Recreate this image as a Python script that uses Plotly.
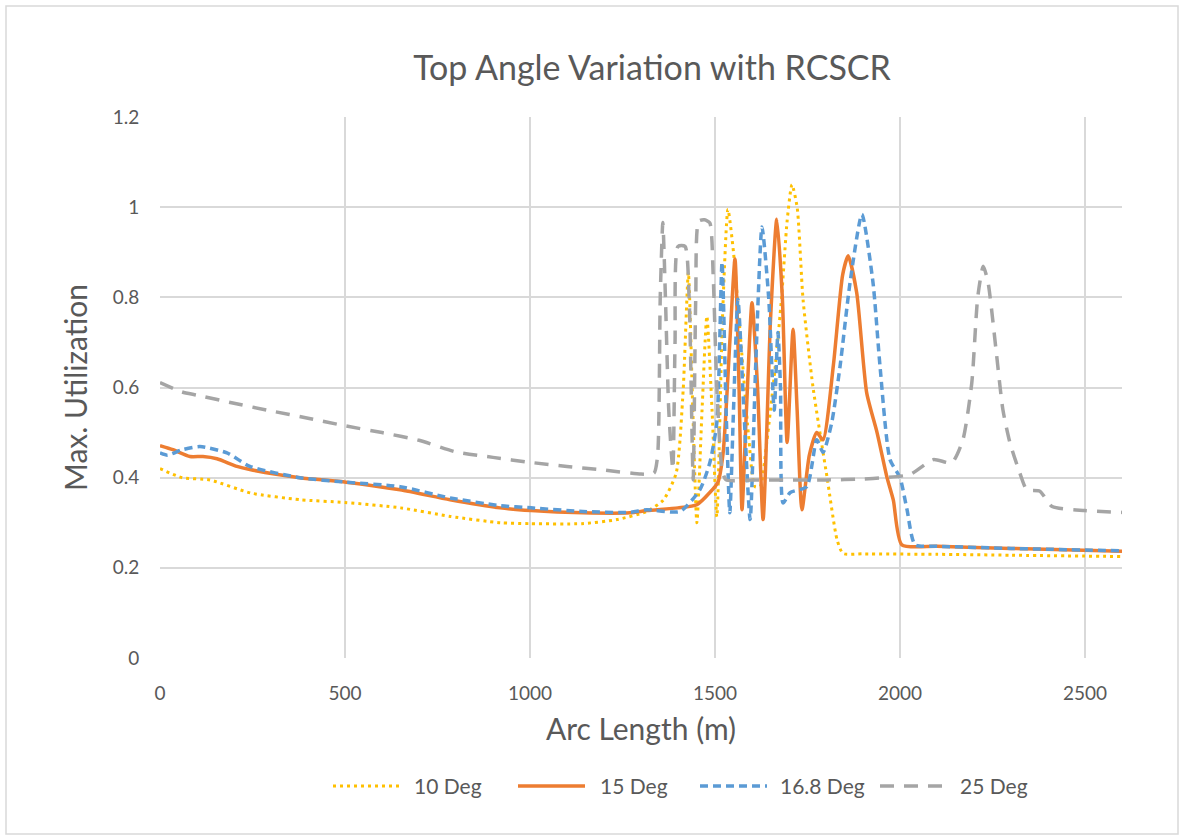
import plotly.graph_objects as go

# Arc length (m) and max. utilization for each top angle
x_10 = [0, 60, 135, 245, 380, 500, 650, 785, 920, 1000, 1140, 1235, 1315, 1360, 1395, 1414,
        1428, 1440, 1451, 1465, 1478, 1492, 1505, 1520, 1535, 1550, 1570, 1590, 1608, 1622,
        1640, 1662, 1680, 1695, 1708, 1722, 1738, 1765, 1803, 1830, 1846, 1900, 2100, 2300, 2600]
y_10 = [0.42, 0.40, 0.395, 0.366, 0.351, 0.345, 0.333, 0.314, 0.30, 0.298, 0.298, 0.307, 0.325,
        0.35, 0.41, 0.595, 0.855, 0.55, 0.30, 0.55, 0.758, 0.55, 0.313, 0.75, 0.995, 0.9, 0.7,
        0.5, 0.38, 0.38, 0.48, 0.64, 0.80, 0.97, 1.05, 1.0, 0.795, 0.60, 0.40, 0.262, 0.232,
        0.231, 0.23, 0.228, 0.225]

x_15 = [0, 35, 81, 116, 154, 208, 243, 378, 503, 649, 784, 919, 1003, 1143, 1270, 1316, 1400,
        1451, 1486, 1508, 1522, 1540, 1554, 1565, 1573, 1585, 1600, 1615, 1630, 1650, 1667,
        1682, 1695, 1711, 1722, 1735, 1755, 1775, 1792, 1820, 1845, 1860, 1883, 1910, 1938,
        1965, 1982, 2005, 2100, 2300, 2600]
y_15 = [0.471, 0.462, 0.447, 0.447, 0.442, 0.425, 0.418, 0.40, 0.39, 0.373, 0.351, 0.333, 0.327,
        0.322, 0.322, 0.327, 0.333, 0.34, 0.367, 0.39, 0.455, 0.70, 0.885, 0.60, 0.329, 0.55,
        0.788, 0.60, 0.307, 0.75, 0.973, 0.80, 0.478, 0.729, 0.55, 0.329, 0.45, 0.50, 0.484,
        0.65, 0.85, 0.892, 0.81, 0.588, 0.50, 0.40, 0.35, 0.251, 0.248, 0.243, 0.237]

x_168 = [0, 20, 60, 108, 181, 243, 378, 503, 649, 784, 919, 1003, 1143, 1270, 1316, 1405, 1459,
         1486, 1505, 1519, 1530, 1540, 1550, 1562, 1578, 1595, 1610, 1627, 1645, 1660, 1670,
         1677, 1684, 1703, 1748, 1775, 1792, 1815, 1838, 1865, 1897, 1927, 1946, 1973, 2000,
         2019, 2041, 2100, 2300, 2600]
y_168 = [0.455, 0.45, 0.462, 0.469, 0.455, 0.425, 0.40, 0.39, 0.38, 0.355, 0.338, 0.333, 0.325,
         0.323, 0.329, 0.325, 0.373, 0.433, 0.522, 0.878, 0.55, 0.322, 0.55, 0.796, 0.55, 0.307,
         0.65, 0.956, 0.80, 0.55, 0.722, 0.60, 0.344, 0.367, 0.38, 0.484, 0.456, 0.52, 0.647,
         0.833, 0.984, 0.833, 0.647, 0.44, 0.40, 0.329, 0.251, 0.248, 0.243, 0.238]

x_25 = [0, 60, 100, 200, 300, 400, 500, 600, 700, 800, 900, 1000, 1100, 1200, 1300, 1335, 1345,
        1352, 1359, 1366, 1375, 1386, 1392, 1400, 1419, 1430, 1441, 1448, 1456, 1472, 1486,
        1495, 1505, 1519, 1530, 1600, 1700, 1800, 1900, 1955, 2027, 2090, 2140, 2170, 2194,
        2210, 2225, 2238, 2260, 2278, 2297, 2324, 2343, 2378, 2411, 2500, 2600]
y_25 = [0.611, 0.59, 0.583, 0.565, 0.548, 0.532, 0.515, 0.50, 0.483, 0.457, 0.445, 0.434, 0.425,
        0.417, 0.408, 0.41, 0.45, 0.80, 0.966, 0.80, 0.55, 0.418, 0.70, 0.913, 0.913, 0.80,
        0.395, 0.80, 0.969, 0.972, 0.965, 0.85, 0.60, 0.418, 0.395, 0.395, 0.395, 0.395,
        0.397, 0.40, 0.407, 0.44, 0.433, 0.484, 0.61, 0.80, 0.869, 0.833, 0.68, 0.551, 0.478,
        0.41, 0.373, 0.37, 0.336, 0.327, 0.323]

series = [
    ("10 Deg", x_10, y_10, "#FFC000", "3px,4px", 3),
    ("15 Deg", x_15, y_15, "#ED7D31", "solid", 3.5),
    ("16.8 Deg", x_168, y_168, "#5B9BD5", "8px,5px", 3.5),
    ("25 Deg", x_25, y_25, "#A5A5A5", "14px,10px", 3.5),
]

FONT = "Lato"
TXT = "#595959"
GRID = "#D9D9D9"

# plot area in pixels, used to place the frame and the legend keys
L, R, T, B = 160, 1122, 117, 658
W, H = R - L, B - T


def px_x(p):
    return (p - L) / W


def px_y(p):
    return (B - p) / H


fig = go.Figure()
for name, xs, ys, color, dash, width in series:
    fig.add_trace(go.Scatter(
        x=xs, y=ys, name=name, mode="lines", showlegend=False,
        line=dict(color=color, dash=dash, width=width, shape="spline", smoothing=0.6),
    ))

fig.update_layout(
    width=1184, height=839,
    margin=dict(l=L, r=1184 - R, t=T, b=839 - B, autoexpand=False),
    paper_bgcolor="white", plot_bgcolor="white",
    font=dict(family=FONT, color=TXT),
    title=dict(text="Top Angle Variation with RCSCR", x=652 / 1184, xanchor="center",
               y=1 - 68 / 839, yanchor="middle", font=dict(size=34, color=TXT, family=FONT)),
    xaxis=dict(range=[0, 2600], tickvals=[0, 500, 1000, 1500, 2000, 2500],
               showgrid=True, gridcolor=GRID, gridwidth=2, zeroline=False,
               showline=False, ticks="outside", ticklen=18, tickcolor="rgba(0,0,0,0)",
               tickfont=dict(size=19, color=TXT),
               title=dict(text="Arc Length (m)", font=dict(size=30, color=TXT), standoff=16)),
    yaxis=dict(range=[0, 1.2], tickvals=[0, 0.2, 0.4, 0.6, 0.8, 1.0, 1.2],
               ticktext=["0", "0.2", "0.4", "0.6", "0.8", "1", "1.2"],
               showgrid=True, gridcolor=GRID, gridwidth=2, zeroline=False,
               showline=False, ticks="outside", ticklen=16, tickcolor="rgba(0,0,0,0)",
               tickfont=dict(size=19, color=TXT),
               title=dict(text="Max. Utilization", font=dict(size=30, color=TXT), standoff=16)),
)

# chart frame
fig.add_shape(type="rect", xref="paper", yref="paper",
              x0=px_x(6), x1=px_x(1178), y0=px_y(834), y1=px_y(6),
              line=dict(color="#D9D9D9", width=1.5), fillcolor="rgba(0,0,0,0)", layer="below")

# legend keys below the axis title
legend_keys = [(333, 412), (518, 598), (700, 778), (880, 958)]
LEG_Y = 786
for (x0, tx), (name, _, _, color, dash, width) in zip(legend_keys, series):
    fig.add_shape(type="line", xref="paper", yref="paper",
                  x0=px_x(x0), x1=px_x(x0 + 67), y0=px_y(LEG_Y), y1=px_y(LEG_Y),
                  line=dict(color=color, dash=dash, width=width))
    fig.add_annotation(text=name, xref="paper", yref="paper", x=px_x(tx), y=px_y(LEG_Y),
                       xanchor="left", yanchor="middle", showarrow=False,
                       font=dict(size=21, color=TXT, family=FONT))

fig.write_html("out.html")
